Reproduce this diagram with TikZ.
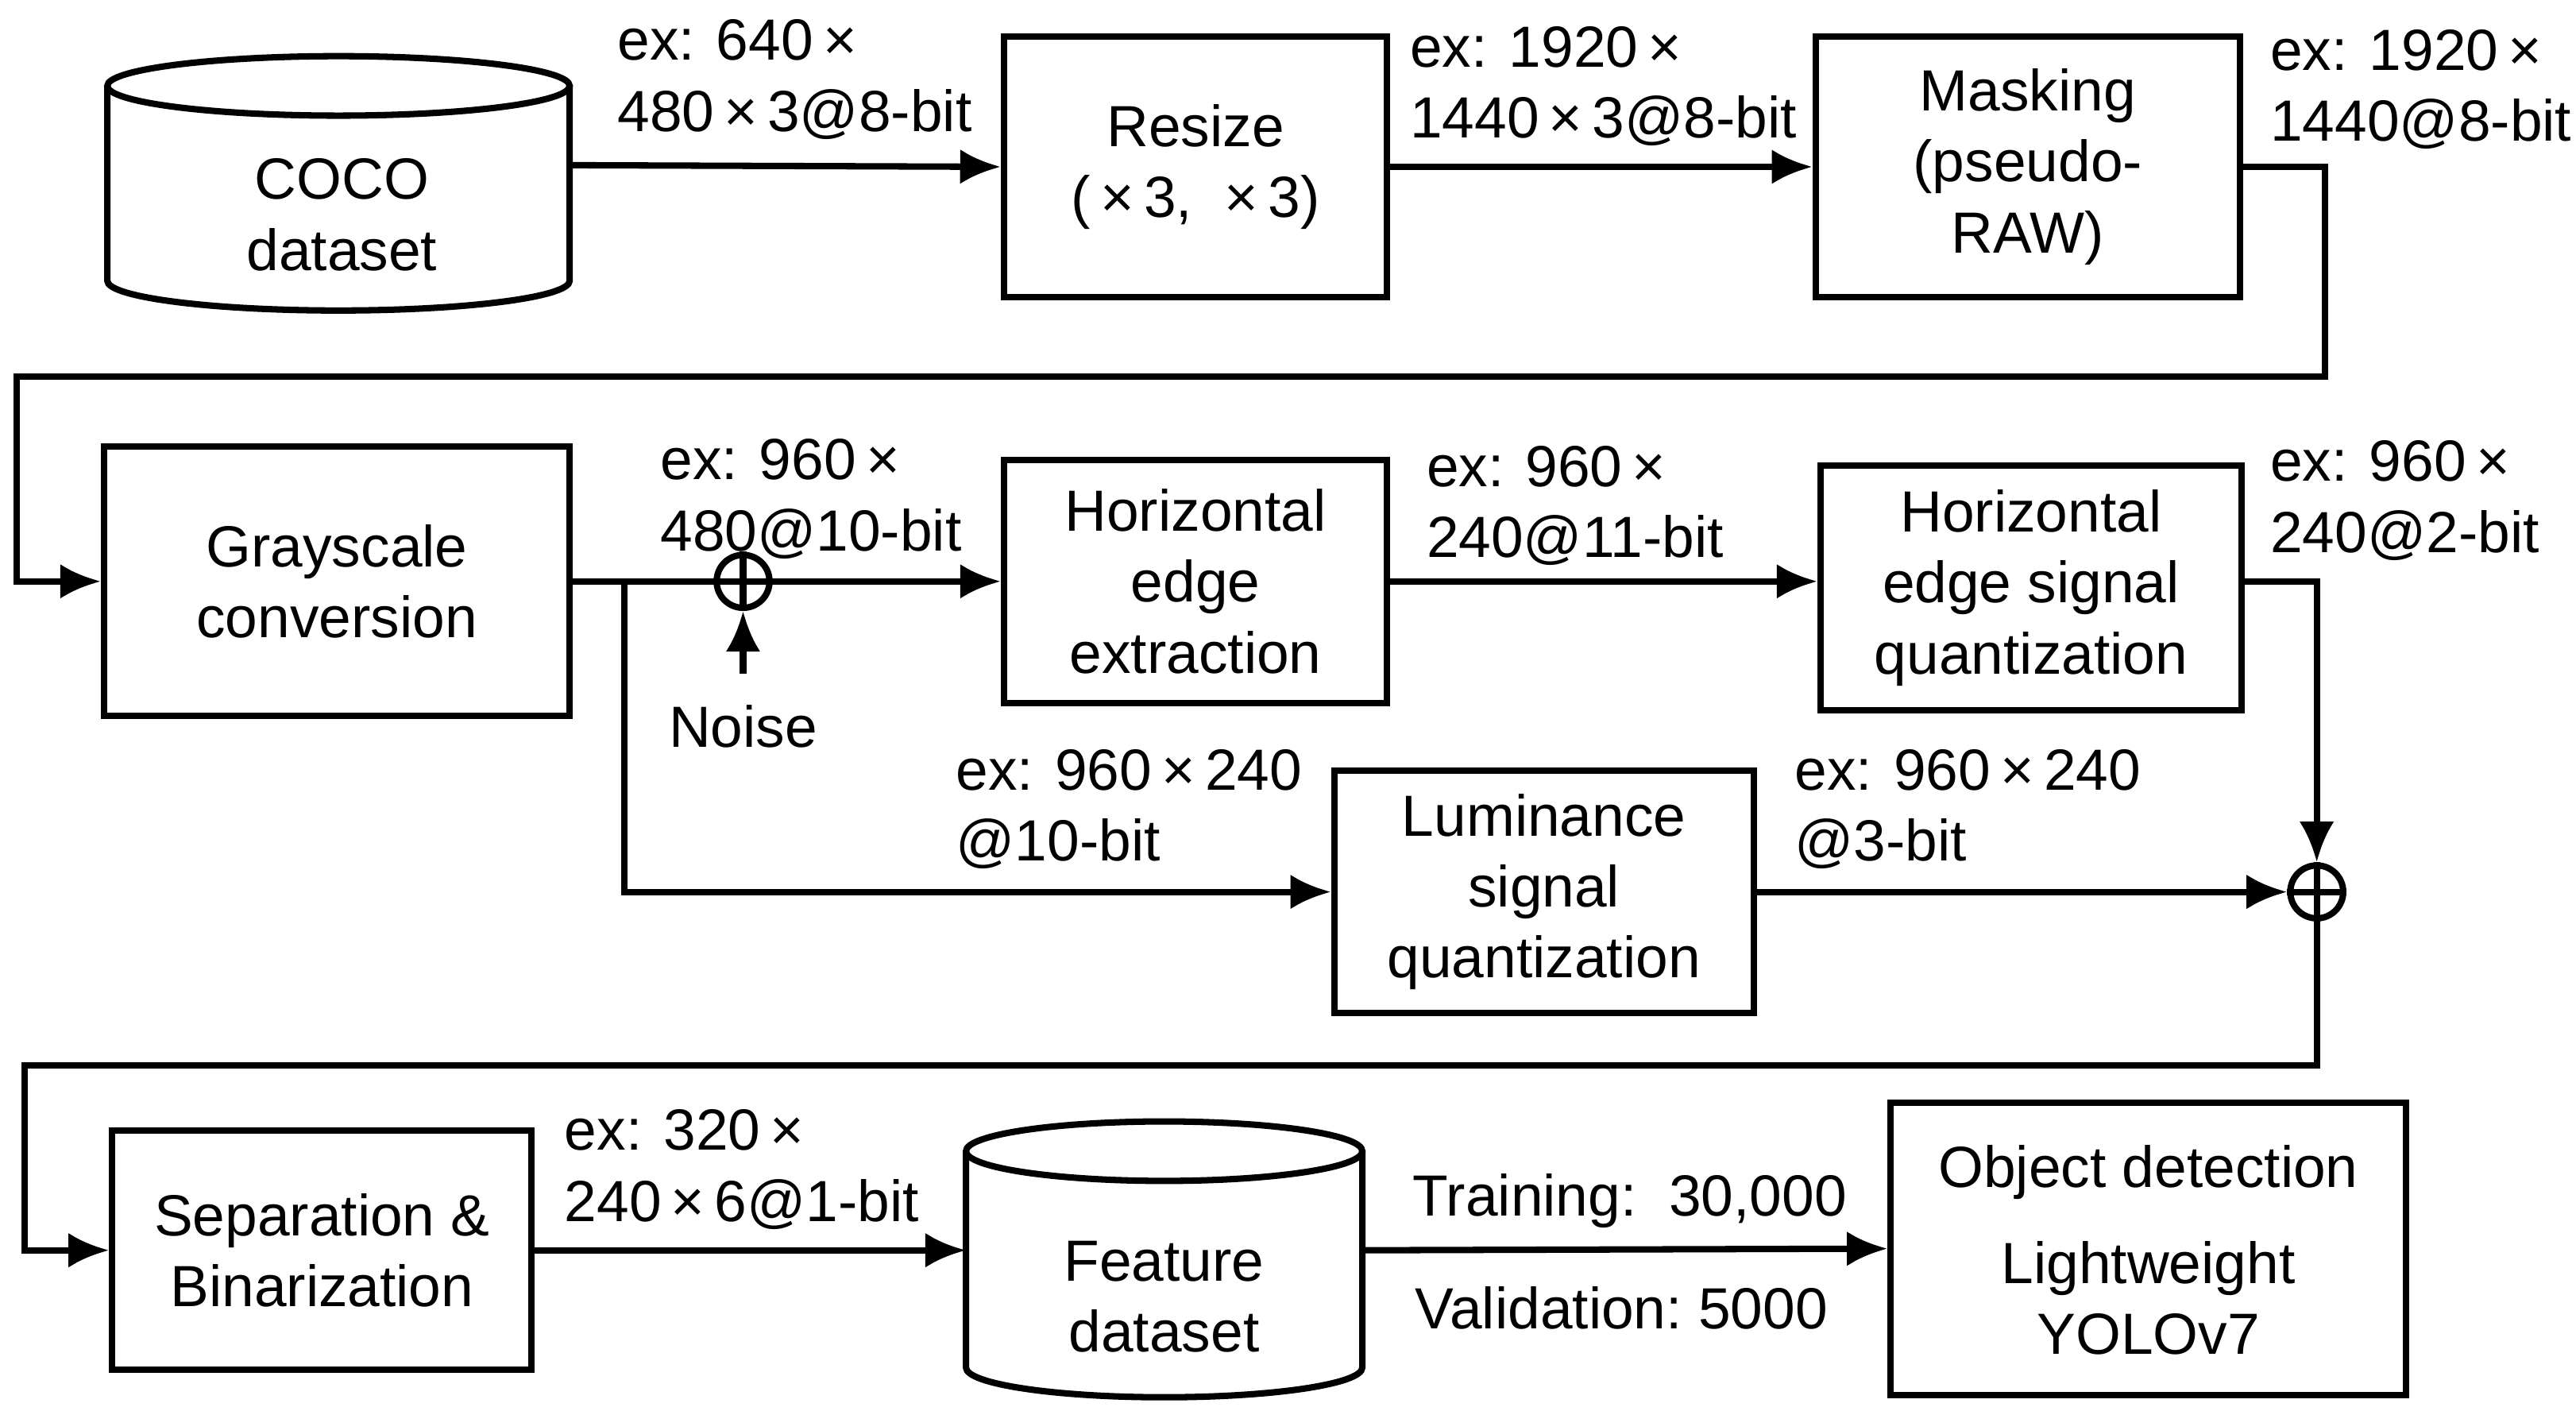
\documentclass[tikz,border=0pt]{standalone}
\usepackage{fontspec}
\setmainfont{Liberation Sans}
\usetikzlibrary{arrows.meta}
\begin{document}
\begin{tikzpicture}[x=0.01cm,y=-0.01cm,line width=1.1pt,
  box/.style={draw,align=center,inner sep=0pt,font=\fontsize{10}{12.2}\selectfont},
  lab/.style={align=left,anchor=north west,inner sep=0pt,font=\fontsize{10}{12.2}\selectfont},
  txt/.style={align=center,inner sep=0pt,font=\fontsize{10}{12.2}\selectfont},
  arr/.style={-{Latex[length=7pt,width=6pt]}},
  sum/.style={draw,circle,minimum size=0.32cm,inner sep=0pt}]
\useasboundingbox (0,0) rectangle (1560,854);
\def\x{\,×\,}
\coordinate (h) at (0,352);
% COCO cylinder
\draw (65,52) -- (65,170) arc[start angle=180,end angle=0,x radius=140,y radius=18] -- (345,52);
\draw (205,52) ellipse[x radius=140,y radius=18];
\node[txt] (coco) at (207,130) {COCO\\dataset};
\coordinate (cocoR) at (345,100);
\node[box,minimum width=232*0.01cm,minimum height=158*0.01cm] (resize) at (724,101) {Resize\\(\,×\,3,\ \ ×\,3)};
\node[box,minimum width=257*0.01cm,minimum height=158*0.01cm] (mask) at (1228,101) {Masking\\(pseudo-\\RAW)};
\draw[arr] (cocoR) -- (resize.west);
\draw[arr] (resize.east) -- (mask.west);
\node[lab] at (372,10) {ex: 640\x\\480\x3@8-bit};
\node[lab] at (852,14) {ex: 1920\x\\1440\x3@8-bit};
\node[lab] at (1373,16) {ex: 1920\x\\1440@8-bit};
% row 2
\node[box,minimum width=282*0.01cm,minimum height=163*0.01cm] (gray) at (204,352) {Grayscale\\conversion};
\draw[arr] (mask.east) -- (1408,101) -- (1408,228) -- (10,228) -- (10,352) -- (gray.west);
\node[sum] (s1) at (450,352) {};
\draw (s1.north) -- (s1.south) (s1.west) -- (s1.east);
\node[box,minimum width=232*0.01cm,minimum height=147*0.01cm] (hee) at (724,352) {Horizontal\\edge\\extraction};
\node[box,minimum width=255*0.01cm,minimum height=148*0.01cm] (hesq) at (1230,356) {Horizontal\\edge signal\\quantization};
\node[box,minimum width=254*0.01cm,minimum height=147*0.01cm] (lum) at (935,540) {Luminance\\signal\\quantization};
\draw (gray.east) -- (s1.west);
\draw[arr] (s1.east) -- (hee.west);
\node[txt] (noise) at (450,440) {Noise};
\coordinate (nz) at (450,408);
\draw[arr] (nz) -- (s1.south);
\draw[arr] (378,352) -- (378,540) -- (lum.west);
\draw[arr] (hee.east) -- (hesq.west |- h);
\node[sum] (s2) at (1403,540) {};
\draw (s2.north) -- (s2.south) (s2.west) -- (s2.east);
\draw[arr] (hesq.east |- h) -- (1403,352) -- (s2.north);
\draw[arr] (lum.east) -- (s2.west);
\node[lab] at (398,264) {ex: 960\x\\480@10-bit};
\node[lab] at (862,268) {ex: 960\x\\240@11-bit};
\node[lab] at (1373,265) {ex: 960\x\\240@2-bit};
\node[lab] at (577,452) {ex: 960\x240\\@10-bit};
\node[lab] at (1085,452) {ex: 960\x240\\@3-bit};
% row 3
\node[box,minimum width=254*0.01cm,minimum height=145*0.01cm] (sep) at (195,757) {Separation \&\\Binarization};
\draw[arr] (s2.south) -- (1403,645) -- (15,645) -- (15,757) -- (sep.west);
\draw (585,697) -- (585,828) arc[start angle=180,end angle=0,x radius=120,y radius=18] -- (825,697);
\draw (705,697) ellipse[x radius=120,y radius=18];
\node[txt] (feat) at (705,785) {Feature\\dataset};
\coordinate (featL) at (585,757);
\coordinate (featR) at (825,757);
\draw[arr] (sep.east) -- (featL);
\node[lab] at (340,670) {ex: 320\x\\240\x6@1-bit};
\node[box,minimum width=312*0.01cm,minimum height=177*0.01cm] (obj) at (1301,756) {};
\node[txt] (o1) at (1301,710) {Object detection};
\node[txt] (o2) at (1301,786) {Lightweight\\YOLOv7};
\draw[arr] (featR) -- (obj.west);
\node[txt] (tr) at (987,727) {Training:\ \ 30,000};
\node[txt] (va) at (982,792) {Validation:\ 5000};
\end{tikzpicture}
\end{document}
